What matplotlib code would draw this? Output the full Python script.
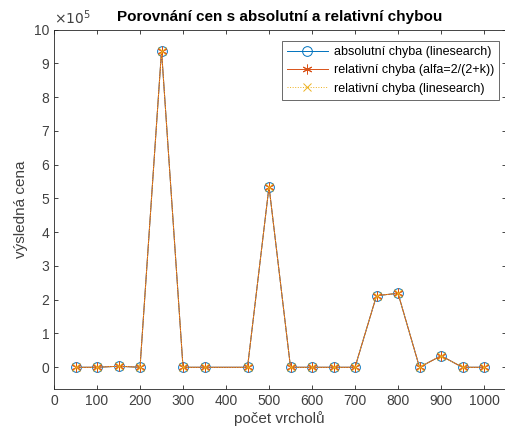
import matplotlib
matplotlib.use("Agg")
import matplotlib.pyplot as plt

plt.rcParams['font.family'] = ['Liberation Sans', 'DejaVu Sans']

# počet vrcholů a výsledné ceny (v jednotkách 1e5)
vrcholy = [50, 100, 150, 200, 250, 300, 350, 450, 500, 550, 600, 650, 700,
           750, 800, 850, 900, 950, 1000]
abs_ls = [0, 0, 0.03, 0, 9.375, 0, 0, 0, 5.35, 0, 0, 0, 0,
          2.12, 2.19, 0, 0.34, 0, 0]
rel_alfa = [0, 0, 0.03, 0, 9.375, 0, 0, 0, 5.35, 0, 0, 0, 0,
            2.12, 2.19, 0, 0.34, 0, 0]
rel_ls = [0, 0, 0.03, 0, 9.375, 0, 0, 0, 5.35, 0, 0, 0, 0,
          2.12, 2.19, 0, 0.34, 0, 0]

fig = plt.figure(figsize=(5.05, 4.32), dpi=100)
ax = fig.add_axes([0.107, 0.099, 0.894, 0.8327])

ax.plot(vrcholy, abs_ls, '-o', color='#0072BD', lw=0.7, ms=7, mfc='none',
        mew=0.7, label='absolutní chyba (linesearch)')
ax.plot(vrcholy, rel_alfa, '-', marker=(6, 2, 0), color='#D95319', lw=0.7,
        ms=7, mew=0.7, label='relativní chyba (alfa=2/(2+k))')
ax.plot(vrcholy, rel_ls, ':x', color='#EDB120', lw=0.7, ms=6,
        mew=0.7, label='relativní chyba (linesearch)')

ax.set_xlim(0, 1050)
ax.set_ylim(-0.65, 10)
ax.set_xticks(range(0, 1001, 100))
ax.set_yticks(range(0, 11))
ax.tick_params(direction='in', labelsize=10, labelcolor='#404040',
               color='#262626', length=3, top=True, right=True, width=0.6)
for s in ax.spines.values():
    s.set_color('#262626')
    s.set_linewidth(0.6)

ax.set_xlabel('počet vrcholů', fontsize=11, color='#404040', labelpad=2)
ax.set_ylabel('výsledná cena', fontsize=11, color='#404040', labelpad=4)
ax.set_title('Porovnání cen s absolutní a relativní chybou', fontsize=11,
             fontweight='bold', pad=6)
ax.text(0.0, 1.006, r'$\times10^5$', transform=ax.transAxes, fontsize=10,
        color='#404040', va='bottom', ha='left', math_fontfamily='dejavusans')

leg = ax.legend(loc='upper right', fontsize=9, frameon=True, fancybox=False,
                edgecolor='#262626', handlelength=3.3, borderpad=0.4,
                labelspacing=0.5, handletextpad=0.5,
                bbox_to_anchor=(1.0, 0.985))
leg.get_frame().set_linewidth(0.6)

fig.savefig('out.png', dpi=100)
